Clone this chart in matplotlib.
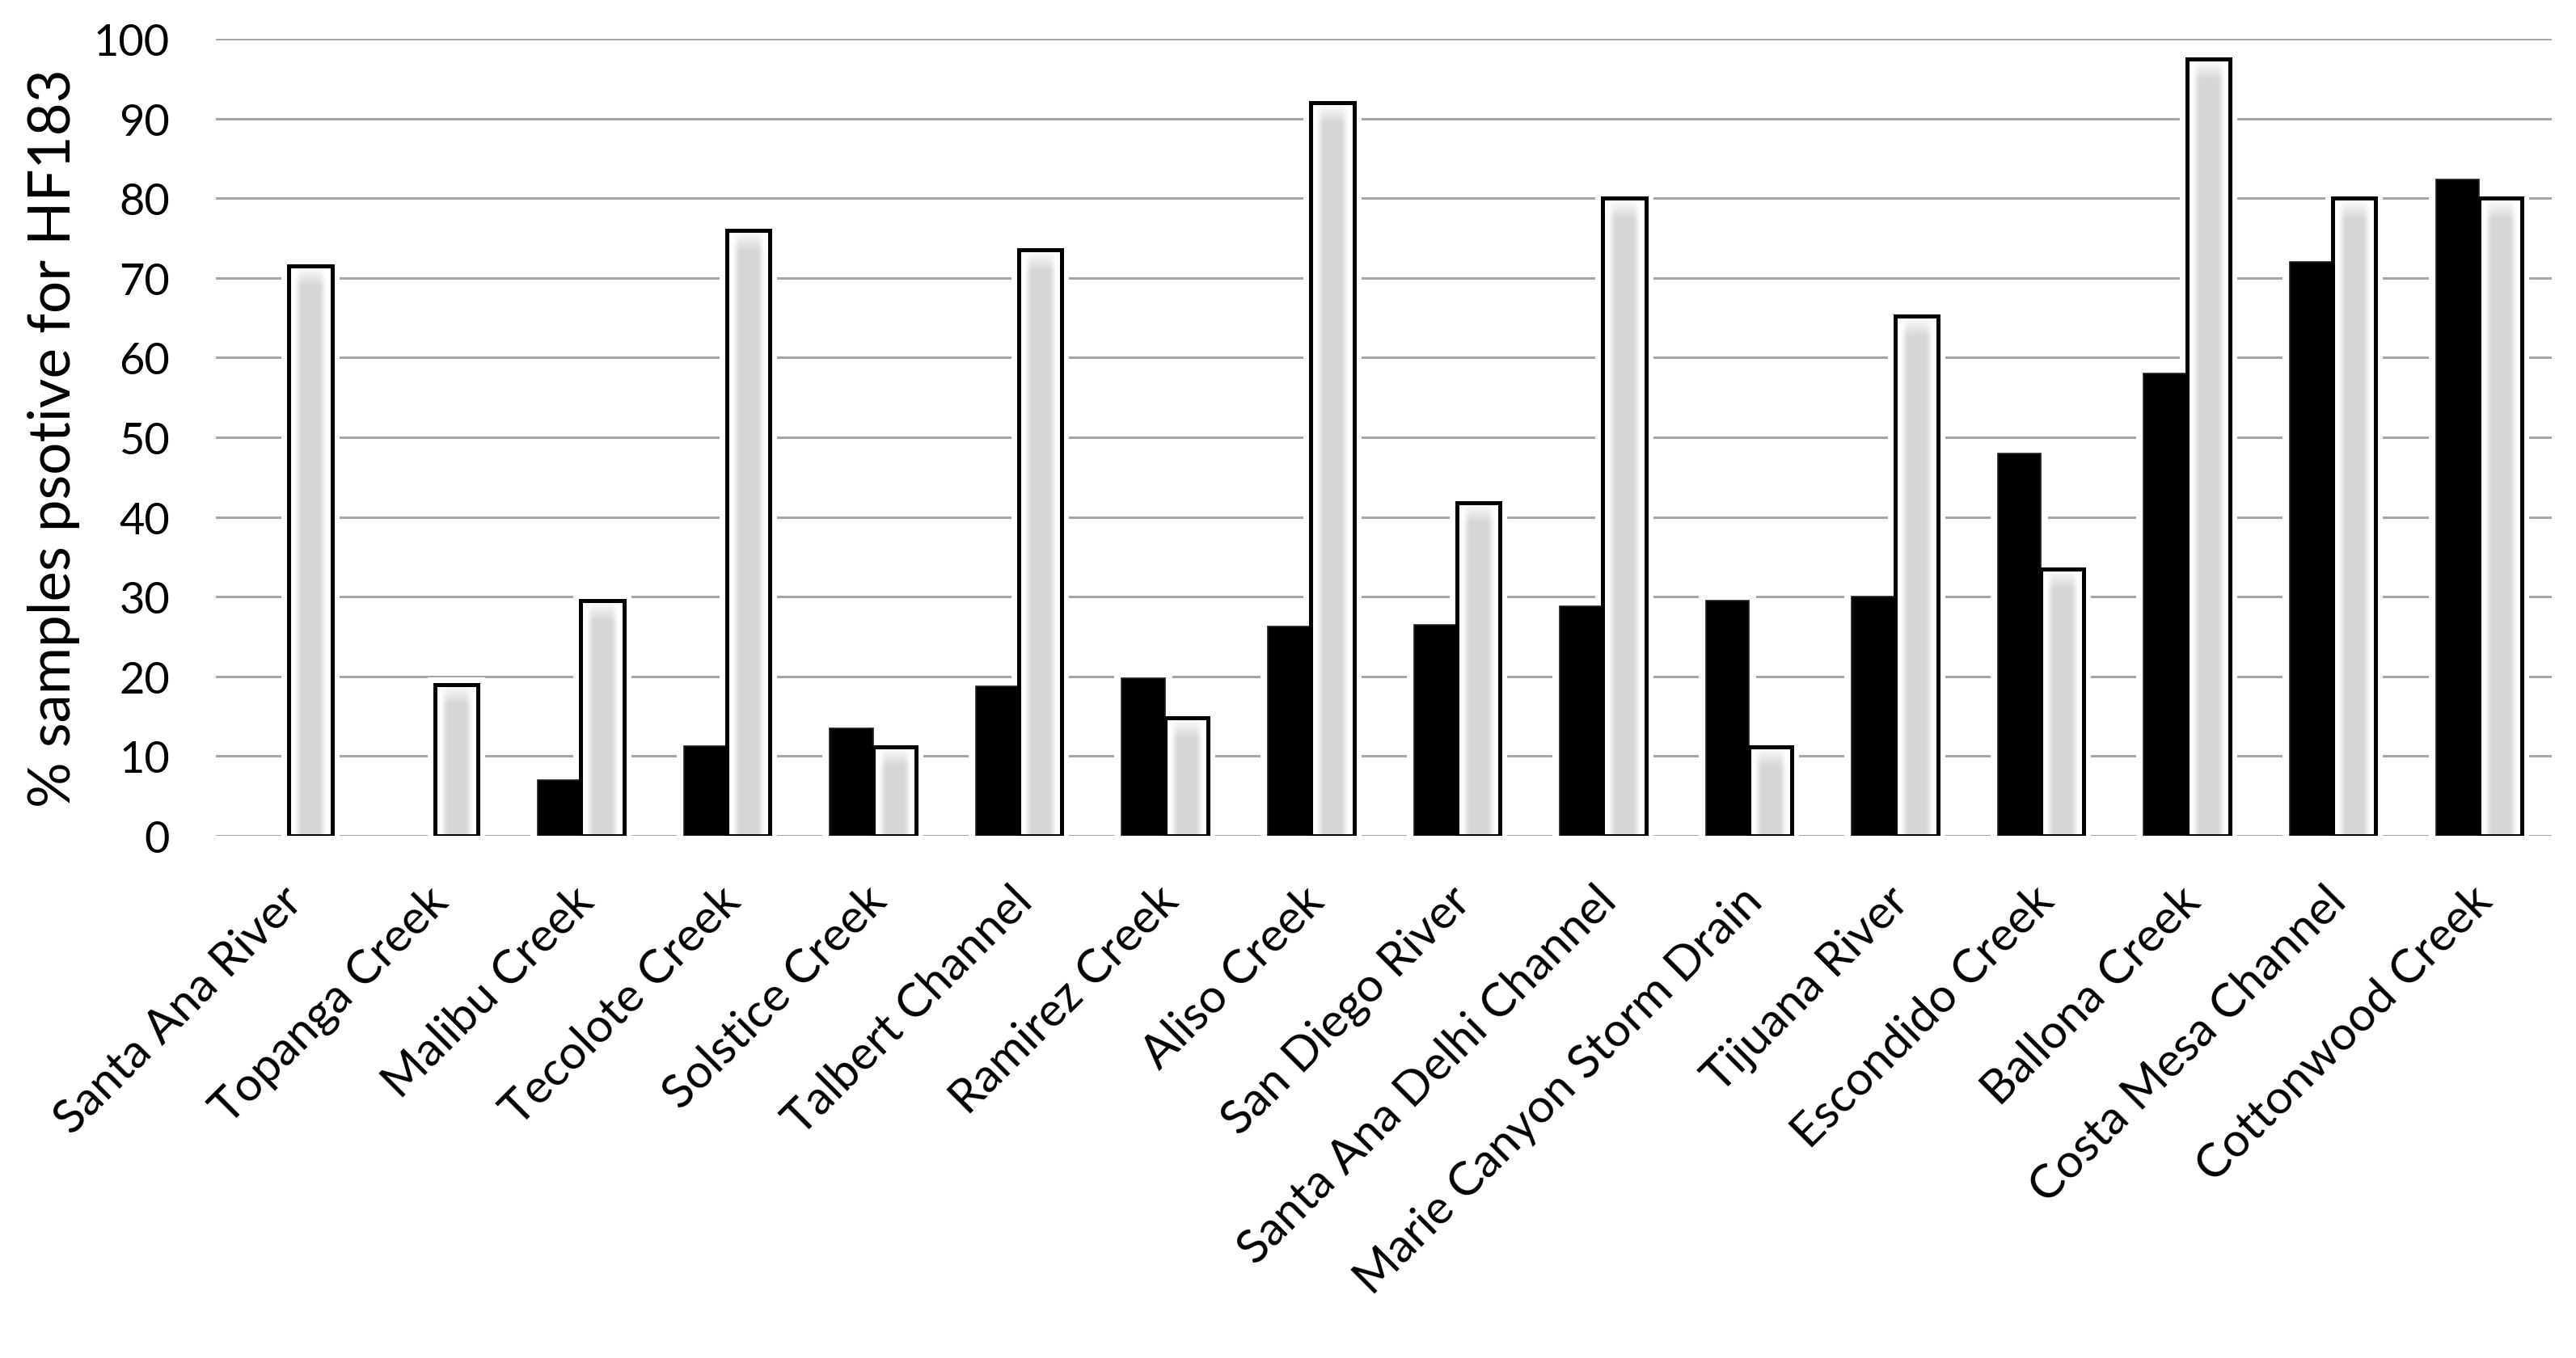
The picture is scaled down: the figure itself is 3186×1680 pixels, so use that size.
import numpy as np
import matplotlib
matplotlib.use("Agg")
import matplotlib.pyplot as plt
from matplotlib.colors import LinearSegmentedColormap
from matplotlib.transforms import ScaledTranslation

plt.rcParams['font.family'] = ['Lato', 'DejaVu Sans']

sites = ["Santa Ana River", "Topanga Creek", "Malibu Creek", "Tecolote Creek",
         "Solstice Creek", "Talbert Channel", "Ramirez Creek", "Aliso Creek",
         "San Diego River", "Santa Ana Delhi Channel", "Marie Canyon Storm Drain",
         "Tijuana River", "Escondido Creek", "Ballona Creek", "Costa Mesa Channel",
         "Cottonwood Creek"]
black_vals = [0, 0, 7, 11.3, 13.5, 18.8, 19.8, 26.3, 26.5, 28.8, 29.5, 30, 48, 58, 72, 82.3]
gray_vals = [71.5, 19, 29.5, 76, 11.2, 73.5, 14.8, 92, 41.8, 80, 11.2, 65.2, 33.5, 97.5, 80, 80]
yticks = list(range(0, 101, 10))

fig, ax = plt.subplots(figsize=(15.93, 8.405), dpi=200)
fig.subplots_adjust(left=0.0838, right=0.9906, top=0.9709, bottom=0.3843)

x = np.arange(len(sites))
w = 0.295
bv = np.array(black_vals, dtype=float)
gv = np.array(gray_vals, dtype=float)

# white halo so the gridlines break around the bars
ax.bar(x - w/2, bv, w, color='white', edgecolor='white',
       linewidth=np.where(bv > 0, 6.5, 0), zorder=2)
ax.bar(x + w/2, gv, w, color='white', edgecolor='white',
       linewidth=np.where(gv > 0, 6.5, 0), zorder=2)
ax.bar(x - w/2, bv, w, color='black', edgecolor='#202020',
       linewidth=np.where(bv > 0, 0.6, 0), zorder=3)
gbars = ax.bar(x + w/2, gv, w, color='white', edgecolor='black', linewidth=1.8, zorder=5)

# soft gray band inside the white bars
cmap = LinearSegmentedColormap.from_list('g', ['#ffffff', '#d6d6d6'])
t = np.linspace(0, 1, 80)
d = 0.5 - np.abs(t - 0.5)
s = np.clip((d - 0.1) / 0.22, 0, 1)
prof = s * s * (3 - 2 * s)
for b in gbars:
    h = b.get_height()
    if h <= 0:
        continue
    x0 = b.get_x()
    vert = np.clip((h - np.linspace(0, h, 300)) / 2.5, 0, 1)[:, None]
    img = prof[None, :] * vert
    im = ax.imshow(img, extent=(x0, x0 + w, 0, h), origin='lower', cmap=cmap,
                   vmin=0, vmax=1, aspect='auto', zorder=4, interpolation='bilinear')
    im.set_clip_path(b)
    b.set_facecolor('none')

ax.set_xlim(-0.5, len(sites) - 0.5)
ax.set_ylim(0, 100)
ax.set_yticks(yticks)
ax.yaxis.grid(True, color='#a6a6a6', linewidth=1.1, zorder=0)
ax.set_axisbelow(True)
for sp in ax.spines.values():
    sp.set_visible(False)
ax.tick_params(axis='both', length=0, colors='black')
ax.tick_params(axis='y', labelsize=19.5, pad=20.5)
ax.set_xticks(x)
ax.set_xticklabels(sites, rotation=45, ha='right', va='top', rotation_mode='anchor', fontsize=21)
ax.tick_params(axis='x', pad=19)
shift = ScaledTranslation(-4 / 72, 0, fig.dpi_scale_trans)
for lab in ax.get_xticklabels():
    lab.set_transform(lab.get_transform() + shift)
ax.set_ylabel('% samples psotive for HF183', fontsize=25.5, labelpad=6)

fig.savefig('out.png', dpi=200)
